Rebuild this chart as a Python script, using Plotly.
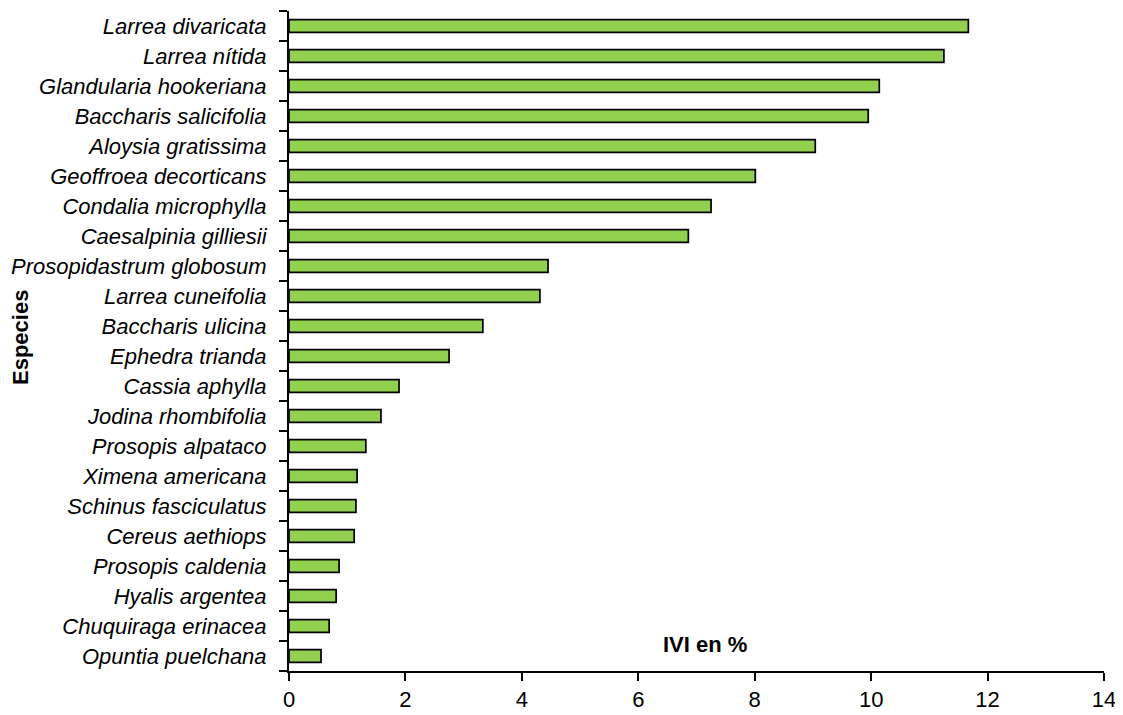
import plotly.graph_objects as go

species = ["Larrea divaricata", "Larrea nítida", "Glandularia hookeriana", "Baccharis salicifolia",
           "Aloysia gratissima", "Geoffroea decorticans", "Condalia microphylla", "Caesalpinia gilliesii",
           "Prosopidastrum globosum", "Larrea cuneifolia", "Baccharis ulicina", "Ephedra trianda",
           "Cassia aphylla", "Jodina rhombifolia", "Prosopis alpataco", "Ximena americana",
           "Schinus fasciculatus", "Cereus aethiops", "Prosopis caldenia", "Hyalis argentea",
           "Chuquiraga erinacea", "Opuntia puelchana"]
ivi = [11.67, 11.25, 10.14, 9.95, 9.04, 8.01, 7.25, 6.86, 4.45, 4.31, 3.33, 2.75,
       1.89, 1.58, 1.32, 1.17, 1.15, 1.12, 0.86, 0.81, 0.69, 0.55]
x_ticks = [0, 2, 4, 6, 8, 10, 12, 14]

FONT = "Liberation Sans Narrow, Arial Narrow, Liberation Sans, Arial, sans-serif"

W, H = 1115, 707
ML, MR, MT, MB = 281, 19, 3, 44
pw = W - ML - MR
ph = H - MT - MB

n = len(species)
pos = list(range(n))                       # category positions (bottom = 0)
labels_bottom_up = species[::-1]
values_bottom_up = ivi[::-1]
boundaries = [p - 0.5 for p in pos] + [n - 0.5]

fig = go.Figure(go.Bar(
    y=pos, x=values_bottom_up, orientation="h",
    marker=dict(color="#92D050", line=dict(color="black", width=1.7)),
    width=0.43,
))
# invisible trace on the label axis so it is drawn
fig.add_trace(go.Scatter(x=[None], y=[None], yaxis="y2", showlegend=False, hoverinfo="skip"))

fig.update_layout(
    width=W, height=H,
    margin=dict(l=ML, r=MR, t=MT, b=MB),
    plot_bgcolor="white", paper_bgcolor="white",
    showlegend=False,
    font=dict(family=FONT, color="black", size=22),
    xaxis=dict(range=[0, 14], tickvals=x_ticks, showgrid=False, zeroline=False,
               showline=True, linecolor="black", linewidth=1.5,
               ticks="outside", ticklen=8, tickwidth=1.5, tickcolor="black",
               tickfont=dict(family=FONT, size=22)),
    yaxis=dict(range=[-0.5, n - 0.5], tickvals=boundaries, showticklabels=False,
               showgrid=False, zeroline=False, showline=True, linecolor="black", linewidth=1.5,
               ticks="outside", ticklen=8, tickwidth=1.5, tickcolor="black", automargin=False),
    yaxis2=dict(range=[-0.5, n - 0.5], overlaying="y", side="left", matches="y",
                tickvals=pos, ticktext=labels_bottom_up,
                showgrid=False, zeroline=False, showline=False,
                ticks="outside", ticklen=17, tickcolor="rgba(0,0,0,0)", automargin=False,
                tickfont=dict(family=FONT, size=22, style="italic")),
    annotations=[
        dict(text="<b>Especies</b>", x=(12 - ML) / pw, y=(H - MB - 330) / ph,
             xref="paper", yref="paper", showarrow=False,
             textangle=-90, font=dict(family=FONT, size=22), xanchor="center", yanchor="middle"),
        dict(text="<b>IVI en %</b>", x=7.15, y=0.4, xref="x", yref="y", showarrow=False,
             font=dict(family=FONT, size=22), xanchor="center", yanchor="middle"),
    ],
)

fig.write_html("out.html")
